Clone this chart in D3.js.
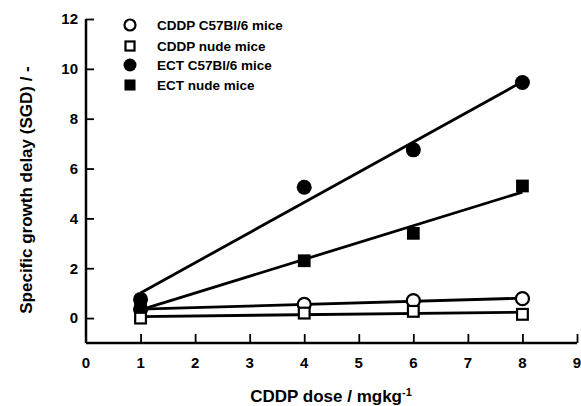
<!DOCTYPE html>
<meta charset="utf-8">
<style>
body { margin: 0; background: #fff; }
text { font-family: "Liberation Sans", Arial, sans-serif; font-weight: bold; fill: #000; }
</style>
<svg width="581" height="406"></svg>
<script src="https://d3js.org/d3.v7.min.js"></script>
<script>

// doses (x) and SGD values
var doses = [1, 4, 6, 8];
var cddpC57 = [0.35, 0.55, 0.70, 0.78];
var cddpNude = [0.00, 0.20, 0.27, 0.15];
var ectC57 = [0.75, 5.25, 6.75, 9.45];
var ectNude = [0.45, 2.30, 3.40, 5.30];

var seriesNames = ["CDDP C57Bl/6 mice", "CDDP nude mice", "ECT C57Bl/6 mice", "ECT nude mice"];
var xTicks = [0, 1, 2, 3, 4, 5, 6, 7, 8, 9];
var yTicks = [0, 2, 4, 6, 8, 10, 12];

var svg = d3.select("svg"), width = +svg.attr("width"), height = +svg.attr("height");
var x = d3.scaleLinear().domain([0, 9]).range([86, 577]);
var y = d3.scaleLinear().domain([-1, 12]).range([343, 19]);

var series = [
  { name: seriesNames[0], vals: cddpC57, shape: "circle", filled: false },
  { name: seriesNames[1], vals: cddpNude, shape: "square", filled: false },
  { name: seriesNames[2], vals: ectC57, shape: "circle", filled: true },
  { name: seriesNames[3], vals: ectNude, shape: "square", filled: true }
];

// least squares fit, drawn from first to last dose
function fit(vals) {
  var mx = d3.mean(doses), my = d3.mean(vals), sxy = 0, sxx = 0;
  doses.forEach(function(d, i) { sxy += (d - mx) * (vals[i] - my); sxx += (d - mx) * (d - mx); });
  var b = sxy / sxx, a = my - b * mx;
  return [doses[0], doses[doses.length - 1]].map(function(d) { return [d, a + b * d]; });
}

// axes
svg.append("line").attr("x1", x(0)).attr("x2", x(0)).attr("y1", y(-1)).attr("y2", y(12))
  .attr("stroke", "#000").attr("stroke-width", 2.5);
svg.append("line").attr("x1", x(0)).attr("x2", x(9)).attr("y1", y(-1)).attr("y2", y(-1))
  .attr("stroke", "#000").attr("stroke-width", 2.5);

var yAxis = d3.axisRight(y).tickValues(yTicks).tickSize(8).tickFormat("");
var gy = svg.append("g").attr("transform", "translate(" + x(0) + ",0)").call(yAxis);
gy.select(".domain").remove();
gy.selectAll("line").attr("stroke", "#000").attr("stroke-width", 1.8);

svg.append("g").selectAll("text").data(yTicks).enter().append("text")
  .attr("x", 78).attr("y", function(d) { return y(d); }).attr("dy", "0.36em")
  .attr("text-anchor", "end").style("font-size", "15px").text(function(d) { return d; });

var xAxis = d3.axisTop(x).tickValues(xTicks.slice(1)).tickSize(9).tickFormat("");
var gx = svg.append("g").attr("transform", "translate(0," + y(-1) + ")").call(xAxis);
gx.select(".domain").remove();
gx.selectAll("line").attr("stroke", "#000").attr("stroke-width", 1.8);

svg.append("g").selectAll("text").data(xTicks).enter().append("text")
  .attr("x", function(d) { return x(d); }).attr("y", 368)
  .attr("text-anchor", "middle").style("font-size", "15px").text(function(d) { return d; });

// axis titles
var xt = svg.append("text").attr("x", 331).attr("y", 402).attr("text-anchor", "middle")
  .style("font-size", "17px").text("CDDP dose / mgkg");
xt.append("tspan").attr("dy", "-0.55em").style("font-size", "11px").text("-1");

svg.append("text").attr("transform", "translate(32,190) rotate(-90)").attr("text-anchor", "middle")
  .style("font-size", "17px").text("Specific growth delay (SGD) / -");

// fitted lines
var line = d3.line().x(function(d) { return x(d[0]); }).y(function(d) { return y(d[1]); });
svg.append("g").selectAll("path").data(series).enter().append("path")
  .attr("d", function(s) { return line(fit(s.vals)); })
  .attr("fill", "none").attr("stroke", "#000").attr("stroke-width", 2.8);

function marker(g, s, size) {
  if (s.shape == "circle") {
    g.append("circle").attr("r", size / 2 - (s.filled ? 0 : 1))
      .attr("fill", s.filled ? "#000" : "#fff").attr("stroke", "#000").attr("stroke-width", s.filled ? 0 : 2.2);
  } else {
    var h = size * 0.85 / 2 - (s.filled ? 0 : 1);
    g.append("rect").attr("x", -h).attr("y", -h).attr("width", 2 * h).attr("height", 2 * h)
      .attr("fill", s.filled ? "#000" : "#fff").attr("stroke", "#000").attr("stroke-width", s.filled ? 0 : 2.2);
  }
}

// data points
series.forEach(function(s) {
  var g = svg.append("g");
  doses.forEach(function(d, i) {
    var m = g.append("g").attr("transform", "translate(" + x(d) + "," + y(s.vals[i]) + ")");
    marker(m, s, 15);
  });
});

// legend
var leg = svg.append("g");
var legY = [25, 46, 65, 85];
series.forEach(function(s, i) {
  var m = leg.append("g").attr("transform", "translate(130," + legY[i] + ")");
  marker(m, s, 13);
  leg.append("text").attr("x", 157).attr("y", legY[i]).attr("dy", "0.36em")
    .style("font-size", "13.5px").text(s.name);
});

</script>
